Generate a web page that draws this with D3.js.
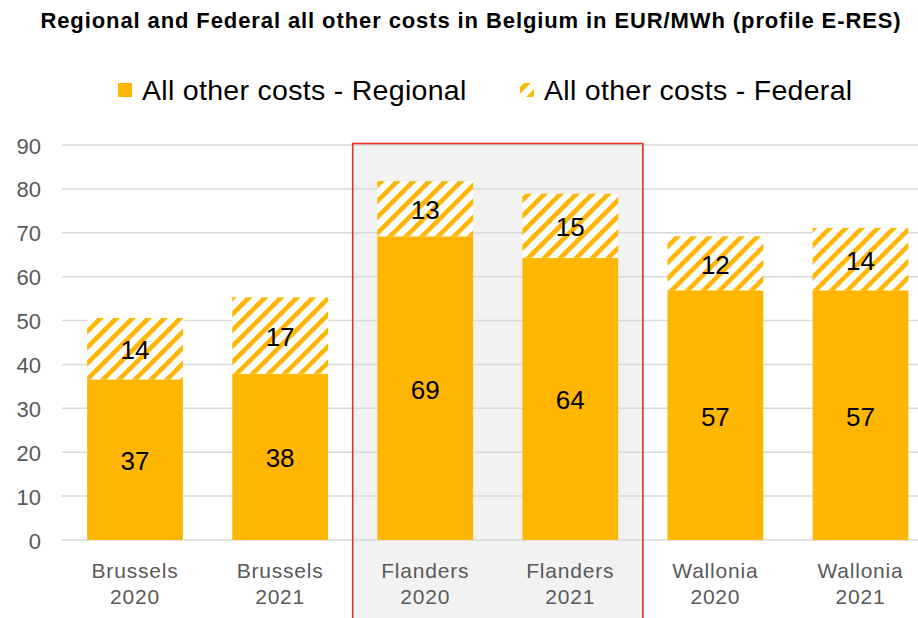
<!DOCTYPE html>
<html><head><meta charset="utf-8">
<script src="https://cdn.jsdelivr.net/npm/d3@7"></script>
<style>body{margin:0;background:#fff;}svg{display:block;font-family:"Liberation Sans",Arial,sans-serif;}</style>
</head><body>
<svg id="chart" width="918" height="618"></svg>
<script>
const regions = ["Brussels","Brussels","Flanders","Flanders","Wallonia","Wallonia"];
const years = ["2020","2021","2020","2021","2020","2021"];
const regional = [36.6, 37.9, 69.2, 64.3, 56.9, 56.9];
const federal = [14.0, 17.4, 12.6, 14.6, 12.3, 14.2];
const yTicks = [0,10,20,30,40,50,60,70,80,90];
const seriesNames = ["All other costs - Regional","All other costs - Federal"];
const highlightRegion = "Flanders";
const title = "Regional and Federal all other costs in Belgium in EUR/MWh (profile E-RES)";

const ORANGE = "#FFB600";
const svg = d3.select("#chart");
const keys = regions.map((r,i)=>r+" "+years[i]);

const defs = svg.append("defs");
const pat = defs.append("pattern").attr("id","stripes").attr("patternUnits","userSpaceOnUse")
  .attr("width",11.3).attr("height",11.3).attr("patternTransform","rotate(45)");
pat.append("rect").attr("width",11.3).attr("height",11.3).attr("fill","#fff");
pat.append("rect").attr("x",0).attr("width",4.6).attr("height",11.3).attr("fill",ORANGE);

const x = d3.scaleBand().domain(keys).range([62.5,933]).paddingInner(0.34).paddingOuter(0.17);
const y = d3.scaleLinear().domain([0,90]).range([540,145]);

// title
svg.append("text").attr("x",471).attr("y",28).attr("text-anchor","middle")
  .attr("font-size",22).attr("font-weight","bold").attr("letter-spacing","0.9px").attr("fill","#000").text(title);

// legend
const leg = [{x:118, fill:ORANGE, name:seriesNames[0]},{x:520, fill:"url(#stripes)", name:seriesNames[1]}];
leg.forEach(l=>{
  svg.append("rect").attr("x",l.x).attr("y",83).attr("width",14).attr("height",14).attr("fill",l.fill);
  svg.append("text").attr("x",l.x+24).attr("y",99.5).attr("font-size",28.5).attr("letter-spacing","0.3px").attr("fill","#000").text(l.name);
});

// highlight box fill
const hk = keys.filter((k,i)=>regions[i]===highlightRegion);
const hx0 = x(hk[0]) - x.step()*x.paddingInner()/2, hx1 = x(hk[hk.length-1]) + x.bandwidth() + x.step()*x.paddingInner()/2;
svg.append("rect").attr("x",hx0).attr("y",143.5).attr("width",hx1-hx0).attr("height",500).attr("fill","#f2f2f2");

// gridlines
svg.append("g").selectAll("line").data(yTicks).join("line")
  .attr("x1",62).attr("x2",918).attr("y1",d=>y(d)).attr("y2",d=>y(d))
  .attr("stroke","#d9d9d9").attr("stroke-width",1.5);

// y labels
svg.append("g").selectAll("text").data(yTicks).join("text")
  .attr("x",41).attr("y",d=>y(d)+8.5).attr("text-anchor","end")
  .attr("font-size",22).attr("fill","#595959").text(d=>d);

// bars
const g = svg.append("g");
keys.forEach((k,i)=>{
  const bx = x(k), bw = x.bandwidth();
  g.append("rect").attr("x",bx).attr("width",bw).attr("y",y(regional[i])).attr("height",y(0)-y(regional[i])).attr("fill",ORANGE);
  const tot = regional[i]+federal[i];
  g.append("rect").attr("x",bx).attr("width",bw).attr("y",y(tot)).attr("height",y(regional[i])-y(tot)).attr("fill","url(#stripes)");
  g.append("text").attr("x",bx+bw/2).attr("y",y(regional[i]/2)+10.5).attr("text-anchor","middle")
    .attr("font-size",26).attr("fill","#000").text(Math.round(regional[i]));
  g.append("text").attr("x",bx+bw/2).attr("y",y(regional[i]+federal[i]/2)+10.5).attr("text-anchor","middle")
    .attr("font-size",26).attr("fill","#000").text(Math.round(federal[i]));
  const t = g.append("text").attr("x",bx+bw/2).attr("text-anchor","middle").attr("font-size",21)
    .attr("letter-spacing","0.8px").attr("fill","#595959");
  t.append("tspan").attr("x",bx+bw/2).attr("y",578).text(regions[i]);
  t.append("tspan").attr("x",bx+bw/2).attr("y",604).text(years[i]);
});

// highlight border
svg.append("rect").attr("x",hx0).attr("y",143.5).attr("width",hx1-hx0).attr("height",500)
  .attr("fill","none").attr("stroke","#E0301E").attr("stroke-width",1.6);
</script>
</body></html>
